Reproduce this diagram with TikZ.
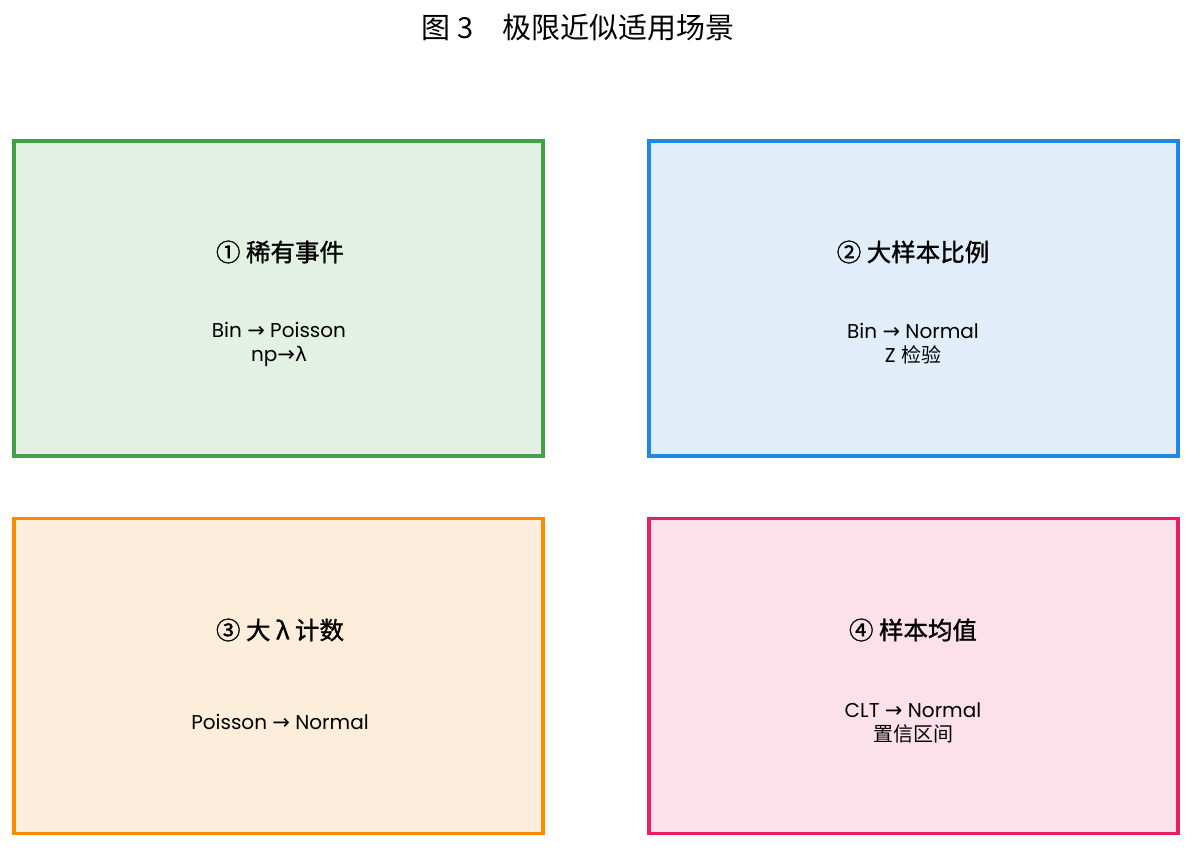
\documentclass[tikz,border=0pt]{standalone}
\usepackage{fontspec}
\setmainfont{Poppins}
\newfontfamily\cjk{Noto Sans CJK SC}
\newfontfamily\cjkh[FakeBold=1.2]{Noto Sans CJK SC}
\newfontfamily\dv{DejaVu Sans}
\definecolor{gB}{HTML}{43A047}\definecolor{gF}{HTML}{E3F1E4}
\definecolor{bB}{HTML}{1E88E5}\definecolor{bF}{HTML}{E1EEF9}
\definecolor{oB}{HTML}{FB8C00}\definecolor{oF}{HTML}{FDEEDC}
\definecolor{pB}{HTML}{E91E63}\definecolor{pF}{HTML}{FCE0EA}
\tikzset{
  card/.style={draw, line width=3.6pt, minimum width=529pt, minimum height=315pt, inner sep=0pt},
  head/.style={font=\fontsize{24.5}{28}\selectfont\cjkh, text=black, inner sep=0pt},
  body/.style={font=\fontsize{20}{24}\selectfont, text=black, align=center, inner sep=0pt},
  ttl/.style={font=\fontsize{29}{32}\selectfont\cjk, inner sep=0pt}
}
\newcommand{\ar}{{\dv\fontsize{21}{21}\selectfont\raisebox{0pt}{→}}}
\begin{document}
\begin{tikzpicture}[x=1pt,y=-1pt]
\useasboundingbox (0,0) rectangle (1192,849);
\node[ttl] (title) at (578,28) {图 3\hspace{1em}极限近似适用场景};
\node[card, draw=gB, fill=gF] (c1) at (278.5,298.5) {};
\node[card, draw=bB, fill=bF] (c2) at (913.5,298.5) {};
\node[card, draw=oB, fill=oF] (c3) at (278.5,676) {};
\node[card, draw=pB, fill=pF] (c4) at (913.5,676) {};
\node[head] (h1) at (280,252) {① 稀有事件};
\node[head] (h2) at (913,252) {② 大样本比例};
\node[head] (h3) at (280,630) {③ 大 λ 计数};
\node[head] (h4) at (913,630) {④ 样本均值};
\node[body] (b1) at (279,344) {Bin \ar{} Poisson\\np\ar{}{\dv λ}};
\node[body] (b2) at (913,344) {Bin \ar{} Normal\\Z {\cjk 检验}};
\node[body] (b3) at (280,722) {Poisson \ar{} Normal};
\node[body] (b4) at (913,723) {CLT \ar{} Normal\\{\cjk 置信区间}};
\end{tikzpicture}
\end{document}
